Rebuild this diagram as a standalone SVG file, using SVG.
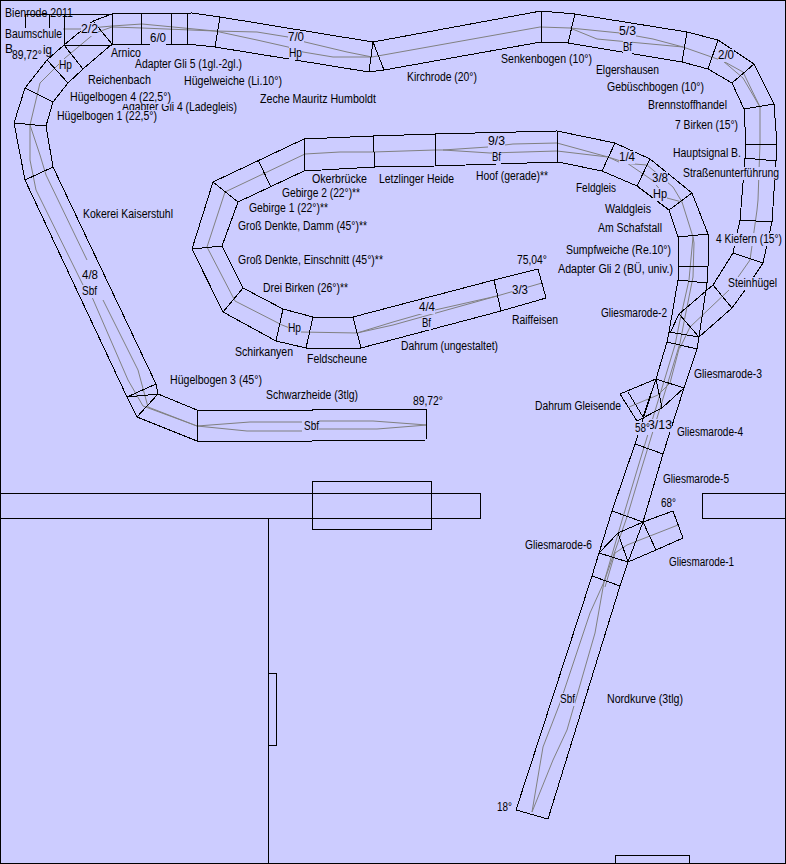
<svg xmlns="http://www.w3.org/2000/svg" width="786" height="864" viewBox="0 0 786 864">
<style>
.t{fill:none;stroke:#000;stroke-width:1;shape-rendering:crispEdges}
.c{fill:none;stroke:#808080;stroke-width:1}
.b{fill:#ccf;stroke:none}
text{font-family:"Liberation Sans",Arial,sans-serif;font-size:12px;fill:#000}
</style>
<rect x="0.5" y="0.5" width="785" height="863" fill="#ccf" stroke="#000"/>
<g id="baseboard" class="t">
<path d="M0 493H480V518H0M312 481H431V529H312ZM786 493H702V518H786M268 518V864M268 673H276V745H268M615 864V855H689V864"/>
</g>
<g id="track-center-lines" class="c">
<path d="M62 29H80L112 26L142 24L215 31L257 32L288 37L305 42L347 52L372 57"/>
<path d="M112 27L142 28L215 31L257 40L288 47L303 52L333 57L372 57L540 27L570 28L620 33L653 39L683 47L597 39L570 28"/>
<path d="M683 47L723 61L743 72L760 107L743 78L723 61M760 107V143L758 200L757 210L750 260L729 290L690 327L680 348"/>
<path d="M112 27L95 33L65 58L40 83L30 125L30 160L36 190L83 285M92 297L128 380L143 406L197 426M30 125L40 155L46 175L87 260M103 300L138 370L148 407L197 426"/>
<path d="M197 426L250 422H302M197 426L247 431H302M319 421H373L427 425L377 429H319"/>
<path d="M305 154L265 173L225 192L207 247L235 301L282 325L300 332L357 333L393 322L435 310L497 296L393 325L357 333M497 296L542 283"/>
<path d="M305 154L340 152L373 152L435 150L443 150L488 147L513 144L557 143L608 157L557 151L490 153L443 150"/>
<path d="M608 157L621 163L647 165L673 187L682 202L693 237M608 157L627 163L652 180L667 198L682 202"/>
<path d="M693 237L694 243L693 277L685 317L680 343L642 467L627 517L604 582M693 237L689 280L680 320L675 345L638 467L623 517L604 582"/>
<path d="M604 582L590 613L560 703L543 747L532 812L553 760L567 730L595 633L604 582"/>
<path d="M629 407L658 395L670 383L680 345M678 525L627 545L615 553L605 587"/>
</g>
<g id="track-outer" class="t">
<path d="M25 29V14H112L192 13L220 17L373 42L541 11L575 14L687 32L718 40L754 64L774 104L777 145L776 161L772 222L763 263L745 290L732 308L699 337"/>
<path d="M25 14V29H49V14M64 14V45H112L141 44H187L215 47L369 72L384 70L541 42L568 43L682 62L708 69L732 83L744 109L746 144L745 158L740 220L733 253L713 285L679 314L670 333"/>
<path d="M64 45L47 60L25 88L14 123L25 180L127 397L137 417L197 441H312L426 440L427 409H312L312 410H197L158 394L156 384L53 167L46 126L53 102L68 83L83 69L112 44M197 410V441"/>
<path d="M64 45L93 21L112 14M93 21L112 44M64 45L83 69M47 60L68 83M25 88L53 102M14 123L46 126M25 180L53 167M127 397L156 384M127 397L158 394M137 417L158 394"/>
<path d="M112 14V44M141 14V44M171 14V44M187 14V44M220 17L215 47M373 42L369 72M373 42L384 70M541 11V42M575 14L568 43M687 32L682 62M718 40L708 69M754 64L732 83M774 104L744 109M777 145L746 144M776 161L745 158M772 222L740 220M733 253L763 263M713 285L732 308M679 314L699 337"/>
<path d="M304 139L213 182L192 249L223 312L276 341L306 348H361L501 311L546 298L538 269L494 280L353 317H313L283 309L243 288L222 246L238 202L304 171L375 167L435 166L558 162L602 171L637 186L669 210L678 237L679 266L678 280L669 332L667 342L656 379L635 444L612 511L599 553L592 576L516 810L548 819L620 586L628 562L643 522L663 454L684 388L697 349L699 337L707 283L708 266L708 234L692 193L650 159L615 143L557 131L435 134L373 136L304 139"/>
<path d="M304 139V171M373 136L375 167M435 134V166M557 131L558 162M615 143L602 171M650 159L637 186M692 193L669 210M708 234L678 237M708 266H679M707 283L678 280M669 332L699 337M667 342L697 349M656 379L684 388M635 444L663 454M612 511L643 522M592 576L620 586M213 182L238 202M258 160L271 187M192 249L222 246M223 312L243 288M283 309L276 341M313 317L306 348M353 317L361 348M494 280L501 311"/>
<path d="M656 379L620 394L637 421L662 408L684 388M628 392L643 417M656 379L643 417M656 379L662 408"/>
<path d="M643 522L673 511L683 538L656 550L628 562M643 522L656 550M643 522L618 533L599 553L628 562M618 533L628 562"/>
</g>
<g id="labels">
<text x="5" y="17" textLength="68" lengthAdjust="spacingAndGlyphs">Bienrode 2011</text>
<rect class="b" x="5" y="28" width="58" height="13"/><text x="5" y="38" textLength="57" lengthAdjust="spacingAndGlyphs">Baumschule</text>
<text x="5" y="53" textLength="8" lengthAdjust="spacingAndGlyphs">B</text>
<text x="43" y="54" textLength="9" lengthAdjust="spacingAndGlyphs">ig</text>
<text x="12" y="59" textLength="30" lengthAdjust="spacingAndGlyphs">89,72°</text>
<rect class="b" x="81" y="23" width="17" height="13"/><text x="81" y="33" textLength="17" lengthAdjust="spacingAndGlyphs">2/2</text>
<rect class="b" x="59" y="59" width="14" height="13"/><text x="59" y="69" textLength="13" lengthAdjust="spacingAndGlyphs">Hp</text>
<rect class="b" x="150" y="32" width="16" height="13"/><text x="150" y="42" textLength="16" lengthAdjust="spacingAndGlyphs">6/0</text>
<rect class="b" x="111" y="47" width="30" height="13"/><text x="111" y="57" textLength="30" lengthAdjust="spacingAndGlyphs">Arnico</text>
<text x="122" y="111" textLength="115" lengthAdjust="spacingAndGlyphs">Adapter Gli 4 (Ladegleis)</text>
<rect class="b" x="70" y="91" width="101" height="13"/><text x="70" y="101" textLength="101" lengthAdjust="spacingAndGlyphs">Hügelbogen 4 (22,5°)</text>
<rect class="b" x="57" y="110" width="100" height="13"/><text x="57" y="120" textLength="100" lengthAdjust="spacingAndGlyphs">Hügelbogen 1 (22,5°)</text>
<text x="135" y="68" textLength="107" lengthAdjust="spacingAndGlyphs">Adapter Gli 5 (1gl.-2gl.)</text>
<text x="88" y="84" textLength="63" lengthAdjust="spacingAndGlyphs">Reichenbach</text>
<text x="184" y="85" textLength="98" lengthAdjust="spacingAndGlyphs">Hügelweiche (Li.10°)</text>
<text x="260" y="103" textLength="116" lengthAdjust="spacingAndGlyphs">Zeche Mauritz Humboldt</text>
<rect class="b" x="288" y="31" width="16" height="13"/><text x="288" y="41" textLength="16" lengthAdjust="spacingAndGlyphs">7/0</text>
<rect class="b" x="289" y="47" width="13" height="13"/><text x="289" y="57" textLength="13" lengthAdjust="spacingAndGlyphs">Hp</text>
<text x="407" y="81" textLength="70" lengthAdjust="spacingAndGlyphs">Kirchrode (20°)</text>
<text x="501" y="63" textLength="91" lengthAdjust="spacingAndGlyphs">Senkenbogen (10°)</text>
<rect class="b" x="619" y="25" width="17" height="13"/><text x="619" y="35" textLength="17" lengthAdjust="spacingAndGlyphs">5/3</text>
<rect class="b" x="623" y="41" width="9" height="13"/><text x="623" y="51" textLength="9" lengthAdjust="spacingAndGlyphs">Bf</text>
<rect class="b" x="718" y="49" width="16" height="13"/><text x="718" y="59" textLength="16" lengthAdjust="spacingAndGlyphs">2/0</text>
<text x="596" y="74" textLength="63" lengthAdjust="spacingAndGlyphs">Elgershausen</text>
<text x="607" y="91" textLength="97" lengthAdjust="spacingAndGlyphs">Gebüschbogen (10°)</text>
<text x="648" y="109" textLength="79" lengthAdjust="spacingAndGlyphs">Brennstoffhandel</text>
<text x="675" y="129" textLength="63" lengthAdjust="spacingAndGlyphs">7 Birken (15°)</text>
<text x="673" y="157" textLength="68" lengthAdjust="spacingAndGlyphs">Hauptsignal B.</text>
<rect class="b" x="683" y="167" width="96" height="13"/><text x="683" y="177" textLength="96" lengthAdjust="spacingAndGlyphs">Straßenunterführung</text>
<text x="576" y="192" textLength="40" lengthAdjust="spacingAndGlyphs">Feldgleis</text>
<rect class="b" x="619" y="151" width="16" height="13"/><text x="619" y="161" textLength="16" lengthAdjust="spacingAndGlyphs">1/4</text>
<rect class="b" x="652" y="172" width="16" height="13"/><text x="652" y="182" textLength="16" lengthAdjust="spacingAndGlyphs">3/8</text>
<rect class="b" x="653" y="188" width="14" height="13"/><text x="653" y="198" textLength="14" lengthAdjust="spacingAndGlyphs">Hp</text>
<text x="605" y="213" textLength="46" lengthAdjust="spacingAndGlyphs">Waldgleis</text>
<text x="598" y="232" textLength="64" lengthAdjust="spacingAndGlyphs">Am Schafstall</text>
<text x="566" y="254" textLength="105" lengthAdjust="spacingAndGlyphs">Sumpfweiche (Re.10°)</text>
<text x="558" y="273" textLength="115" lengthAdjust="spacingAndGlyphs">Adapter Gli 2 (BÜ, univ.)</text>
<rect class="b" x="716" y="233" width="66" height="13"/><text x="716" y="243" textLength="66" lengthAdjust="spacingAndGlyphs">4 Kiefern (15°)</text>
<rect class="b" x="728" y="277" width="49" height="13"/><text x="728" y="287" textLength="49" lengthAdjust="spacingAndGlyphs">Steinhügel</text>
<text x="601" y="317" textLength="66" lengthAdjust="spacingAndGlyphs">Gliesmarode-2</text>
<text x="694" y="378" textLength="68" lengthAdjust="spacingAndGlyphs">Gliesmarode-3</text>
<rect class="b" x="648" y="419" width="24" height="13"/><text x="648" y="429" textLength="24" lengthAdjust="spacingAndGlyphs">3/13</text>
<rect class="b" x="635" y="422" width="15" height="13"/><text x="635" y="432" textLength="15" lengthAdjust="spacingAndGlyphs">58°</text>
<text x="677" y="436" textLength="66" lengthAdjust="spacingAndGlyphs">Gliesmarode-4</text>
<text x="663" y="483" textLength="66" lengthAdjust="spacingAndGlyphs">Gliesmarode-5</text>
<text x="661" y="507" textLength="15" lengthAdjust="spacingAndGlyphs">68°</text>
<text x="669" y="566" textLength="65" lengthAdjust="spacingAndGlyphs">Gliesmarode-1</text>
<text x="525" y="549" textLength="67" lengthAdjust="spacingAndGlyphs">Gliesmarode-6</text>
<text x="535" y="410" textLength="86" lengthAdjust="spacingAndGlyphs">Dahrum Gleisende</text>
<text x="512" y="324" textLength="46" lengthAdjust="spacingAndGlyphs">Raiffeisen</text>
<text x="312" y="183" textLength="55" lengthAdjust="spacingAndGlyphs">Okerbrücke</text>
<text x="282" y="197" textLength="78" lengthAdjust="spacingAndGlyphs">Gebirge 2 (22°)**</text>
<text x="249" y="212" textLength="79" lengthAdjust="spacingAndGlyphs">Gebirge 1 (22°)**</text>
<text x="238" y="230" textLength="129" lengthAdjust="spacingAndGlyphs">Groß Denkte, Damm (45°)**</text>
<text x="238" y="264" textLength="145" lengthAdjust="spacingAndGlyphs">Groß Denkte, Einschnitt (45°)**</text>
<text x="263" y="292" textLength="85" lengthAdjust="spacingAndGlyphs">Drei Birken (26°)**</text>
<rect class="b" x="288" y="322" width="13" height="13"/><text x="288" y="332" textLength="13" lengthAdjust="spacingAndGlyphs">Hp</text>
<text x="235" y="356" textLength="58" lengthAdjust="spacingAndGlyphs">Schirkanyen</text>
<text x="307" y="363" textLength="60" lengthAdjust="spacingAndGlyphs">Feldscheune</text>
<text x="379" y="183" textLength="75" lengthAdjust="spacingAndGlyphs">Letzlinger Heide</text>
<rect class="b" x="488" y="135" width="17" height="13"/><text x="488" y="145" textLength="17" lengthAdjust="spacingAndGlyphs">9/3</text>
<rect class="b" x="492" y="151" width="9" height="13"/><text x="492" y="161" textLength="9" lengthAdjust="spacingAndGlyphs">Bf</text>
<text x="476" y="180" textLength="72" lengthAdjust="spacingAndGlyphs">Hoof (gerade)**</text>
<text x="517" y="264" textLength="30" lengthAdjust="spacingAndGlyphs">75,04°</text>
<rect class="b" x="512" y="284" width="16" height="13"/><text x="512" y="294" textLength="16" lengthAdjust="spacingAndGlyphs">3/3</text>
<rect class="b" x="419" y="301" width="16" height="13"/><text x="419" y="311" textLength="16" lengthAdjust="spacingAndGlyphs">4/4</text>
<rect class="b" x="422" y="317" width="9" height="13"/><text x="422" y="327" textLength="9" lengthAdjust="spacingAndGlyphs">Bf</text>
<text x="401" y="350" textLength="97" lengthAdjust="spacingAndGlyphs">Dahrum (ungestaltet)</text>
<text x="170" y="384" textLength="92" lengthAdjust="spacingAndGlyphs">Hügelbogen 3 (45°)</text>
<text x="266" y="399" textLength="92" lengthAdjust="spacingAndGlyphs">Schwarzheide (3tlg)</text>
<text x="413" y="405" textLength="30" lengthAdjust="spacingAndGlyphs">89,72°</text>
<rect class="b" x="304" y="420" width="15" height="13"/><text x="304" y="430" textLength="15" lengthAdjust="spacingAndGlyphs">Sbf</text>
<text x="83" y="218" textLength="90" lengthAdjust="spacingAndGlyphs">Kokerei Kaiserstuhl</text>
<rect class="b" x="82" y="269" width="16" height="13"/><text x="82" y="279" textLength="16" lengthAdjust="spacingAndGlyphs">4/8</text>
<rect class="b" x="82" y="285" width="15" height="13"/><text x="82" y="295" textLength="15" lengthAdjust="spacingAndGlyphs">Sbf</text>
<rect class="b" x="560" y="693" width="15" height="13"/><text x="560" y="703" textLength="15" lengthAdjust="spacingAndGlyphs">Sbf</text>
<text x="607" y="703" textLength="76" lengthAdjust="spacingAndGlyphs">Nordkurve (3tlg)</text>
<text x="497" y="811" textLength="15" lengthAdjust="spacingAndGlyphs">18°</text>
</g>
</svg>
